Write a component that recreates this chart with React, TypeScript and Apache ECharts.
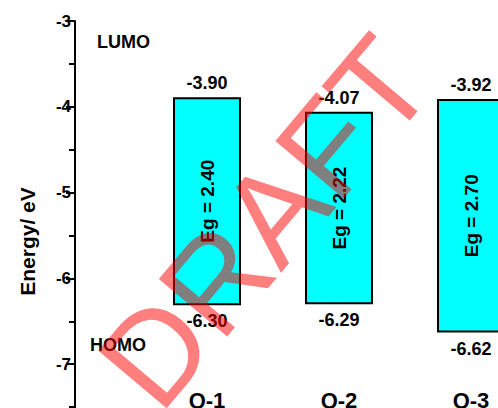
import React, { useEffect, useRef } from "react";
import * as echarts from "echarts";

// Frontier orbital levels (eV) for each compound
const categories = ["Q-1", "Q-2", "Q-3"];
const lumo = [-3.9, -4.07, -3.92];
const homo = [-6.3, -6.29, -6.62];

// Axis ticks
const yMin = -8;
const yMax = -3;
const nameLevel = -7.42;

const FONT = '"Liberation Sans", Arial, sans-serif';

export default function App() {
  const ref = useRef<HTMLDivElement>(null);

  useEffect(() => {
    if (!ref.current) return;
    const chart = echarts.init(ref.current, null, { renderer: "svg" });

    const data = categories.map((c, i) => [i + 1, lumo[i], homo[i], c]);

    const text = (x: number, y: number, str: string, size: number, rotation = 0) => ({
      type: "text",
      x,
      y,
      rotation,
      style: {
        text: str,
        fill: "#000",
        font: `bold ${size}px ${FONT}`,
        textAlign: "center",
        align: "center",
        textVerticalAlign: "middle",
        verticalAlign: "middle",
      },
    });

    chart.setOption({
      animation: false,
      backgroundColor: "#fff",
      grid: { left: 75, right: 0, top: 21, bottom: 0 },
      xAxis: {
        type: "value",
        min: 0,
        max: 3.5,
        show: false,
      },
      yAxis: {
        type: "value",
        min: yMin,
        max: yMax,
        interval: 1,
        name: "Energy/ eV",
        nameLocation: "middle",
        nameGap: 37,
        nameTextStyle: { fontFamily: FONT, fontWeight: "bold", fontSize: 21, color: "#000", padding: [0, 12, 0, 0] },
        axisLine: { show: true, lineStyle: { color: "#000", width: 2 } },
        axisTick: { show: true, inside: false, length: 9, lineStyle: { color: "#000", width: 2 } },
        minorTick: { show: true, splitNumber: 2, length: 6, lineStyle: { color: "#000", width: 2 } },
        axisLabel: {
          fontFamily: FONT,
          fontWeight: "bold",
          fontSize: 17,
          color: "#000",
          margin: 4,
          formatter: (v: number) => (v === yMin ? "" : String(v)),
        },
        splitLine: { show: false },
      },
      series: [
        {
          type: "custom",
          clip: false,
          data,
          renderItem: (params: any, api: any) => {
            const x = api.value(0);
            const top = api.value(1);
            const bot = api.value(2);
            const name = categories[params.dataIndex];
            const p1 = api.coord([x - 0.25, top]);
            const p2 = api.coord([x + 0.25, bot]);
            const mid = api.coord([x, (top + bot) / 2]);
            const q = api.coord([x, nameLevel]);
            const eg = (top - bot).toFixed(2);
            return {
              type: "group",
              children: [
                {
                  type: "rect",
                  shape: { x: p1[0], y: p1[1], width: p2[0] - p1[0], height: p2[1] - p1[1] },
                  style: { fill: "#00FFFF", stroke: "#000", lineWidth: 2 },
                },
                text(mid[0], p1[1] - 15, top.toFixed(2), 18),
                text(mid[0], p2[1] + 17, bot.toFixed(2), 18),
                text(mid[0], mid[1], `Eg = ${eg}`, 19, Math.PI / 2),
                text(q[0], q[1], name, 22),
              ],
            };
          },
        },
      ],
      graphic: [
        {
          type: "text",
          left: 97,
          top: 33,
          style: { text: "LUMO", fill: "#000", font: `bold 18px ${FONT}` },
        },
        {
          type: "text",
          left: 90,
          top: 336,
          style: { text: "HOMO", fill: "#000", font: `bold 18px ${FONT}` },
        },
        {
          type: "text",
          x: 265,
          y: 222,
          rotation: 0.87,
          z: 100,
          style: {
            text: "DRAFT",
            fill: "rgba(255,0,0,0.5)",
            font: `130px ${FONT}`,
            textAlign: "center",
            align: "center",
            textVerticalAlign: "middle",
            verticalAlign: "middle",
          },
        },
      ],
    });

    return () => chart.dispose();
  }, []);

  return (
    <div style={{ position: "fixed", left: 0, top: 0, width: 498, height: 408, overflow: "hidden", background: "#fff" }}>
      <div ref={ref} style={{ width: 537, height: 450 }} />
    </div>
  );
}
